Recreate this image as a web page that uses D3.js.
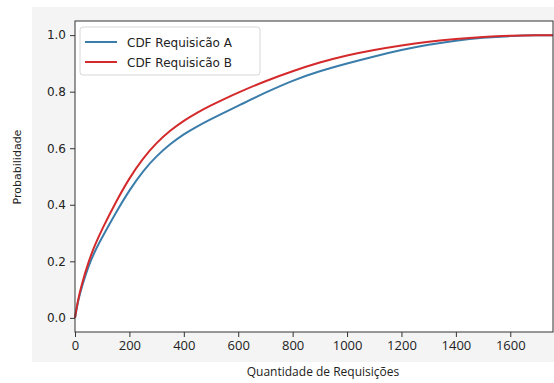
<!DOCTYPE html>
<html>
<head>
<meta charset="utf-8">
<script src="https://cdn.jsdelivr.net/npm/d3@7"></script>
<style>
  body { margin: 0; background: #ffffff; }
  svg { display: block; }
</style>
</head>
<body>
<div id="chart"></div>
<script>
// Values
var quantidades = [0, 10, 25, 50, 75, 100, 150, 200, 250, 300, 350, 400, 450, 500, 550,
    600, 700, 800, 900, 1000, 1100, 1200, 1300, 1400, 1500, 1600, 1700, 1757];
var cdfA = [0, 0.055, 0.11, 0.185, 0.24, 0.285, 0.372, 0.452, 0.52, 0.573, 0.615, 0.65, 0.678, 0.703, 0.727,
    0.75, 0.797, 0.84, 0.873, 0.9, 0.925, 0.948, 0.967, 0.981, 0.991, 0.997, 1.0, 1.0];
var cdfB = [0, 0.06, 0.12, 0.2, 0.262, 0.315, 0.41, 0.495, 0.565, 0.62, 0.663, 0.698, 0.727, 0.752, 0.775,
    0.797, 0.838, 0.873, 0.904, 0.929, 0.948, 0.964, 0.977, 0.987, 0.994, 0.998, 1.0, 1.0];
var xTicks = [0, 200, 400, 600, 800, 1000, 1200, 1400, 1600];
var yTicks = [0.0, 0.2, 0.4, 0.6, 0.8, 1.0];
var seriesNames = ["CDF Requisicão A", "CDF Requisicão B"];
var seriesColors = ["#3a7dab", "#d42a2c"];

var full_width = 554, full_height = 383;
var margin = { top: 21, right: 1, bottom: 51, left: 75 };
var width = full_width - margin.left - margin.right;
var height = full_height - margin.top - margin.bottom;

var svg = d3.select("#chart").append("svg")
    .attr("width", full_width)
    .attr("height", full_height);

// light grey figure background
svg.append("rect")
    .attr("x", 32).attr("y", 7)
    .attr("width", full_width - 32).attr("height", 355)
    .attr("fill", "#f4f4f4");

var x = d3.scaleLinear().domain([0, 1757]).range([0, width]);
var y = d3.scaleLinear().domain([-0.05, 1.05]).range([height, 0]);

var g = svg.append("g")
    .attr("transform", "translate(" + margin.left + "," + margin.top + ")");

g.append("rect")
    .attr("width", width).attr("height", height)
    .attr("fill", "#ffffff");

var line = d3.line()
    .x(function(d) { return x(d[0]); })
    .y(function(d) { return y(d[1]); })
    .curve(d3.curveBasis);

var allSeries = [cdfA, cdfB];
allSeries.forEach(function(vals, k) {
    var pts = quantidades.map(function(q, i) { return [q, vals[i]]; });
    g.append("path")
        .datum(pts)
        .attr("fill", "none")
        .attr("stroke", seriesColors[k])
        .attr("stroke-width", 2)
        .attr("d", line);
});

// X axis
var xAxis = g.append("g")
    .attr("transform", "translate(0," + height + ")")
    .call(d3.axisBottom(x).tickValues(xTicks).tickSize(5).tickPadding(4).tickFormat(d3.format("d")));
xAxis.selectAll("text")
    .style("font-family", "'Open Sans'")
    .style("font-size", "13px")
    .attr("fill", "#222");

// Y axis
var yAxis = g.append("g")
    .call(d3.axisLeft(y).tickValues(yTicks).tickSize(5).tickPadding(4).tickFormat(d3.format(".1f")));
yAxis.selectAll("text")
    .style("font-family", "'DejaVu Sans'")
    .style("font-size", "12px")
    .attr("fill", "#222");

[xAxis, yAxis].forEach(function(ax) {
    ax.select(".domain").remove();
    ax.selectAll("line").attr("stroke", "#333");
});

// frame
g.append("rect")
    .attr("width", width).attr("height", height)
    .attr("fill", "none")
    .attr("stroke", "#333")
    .attr("stroke-width", 1);

// X Axis label
svg.append("text")
    .attr("x", 323)
    .attr("y", 376)
    .style("text-anchor", "middle")
    .style("font-family", "'Open Sans'")
    .style("font-size", "12px")
    .attr("fill", "#222")
    .text("Quantidade de Requisições");

// Y Axis label
svg.append("text")
    .attr("transform", "translate(21,167) rotate(-90)")
    .style("text-anchor", "middle")
    .style("font-family", "'DejaVu Sans'")
    .style("font-size", "11px")
    .attr("fill", "#222")
    .text("Probabilidade");

// Legend
var legend = svg.append("g").attr("transform", "translate(80,27)");
legend.append("rect")
    .attr("width", 180).attr("height", 48)
    .attr("rx", 3)
    .attr("fill", "#ffffff")
    .attr("stroke", "#d8d8d8");
seriesNames.forEach(function(name, k) {
    var row = legend.append("g").attr("transform", "translate(0," + (15 + k * 20) + ")");
    row.append("line")
        .attr("x1", 5).attr("x2", 37)
        .attr("stroke", seriesColors[k])
        .attr("stroke-width", 2);
    row.append("text")
        .attr("x", 47).attr("y", 4.5)
        .style("font-family", "'DejaVu Sans'")
        .style("font-size", "12px")
        .attr("fill", "#222")
        .text(name);
});
</script>
</body>
</html>
